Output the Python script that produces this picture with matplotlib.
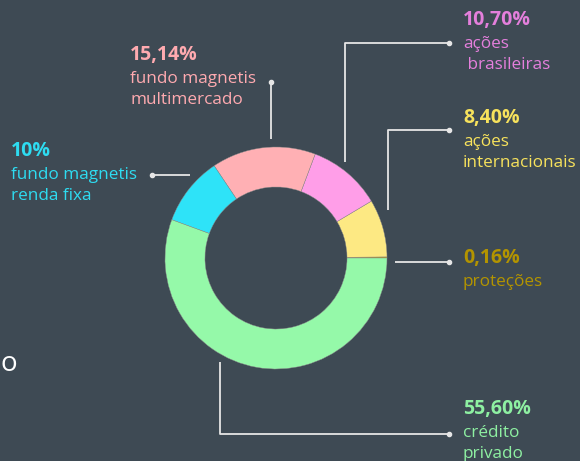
import matplotlib
matplotlib.use("Agg")
import matplotlib.pyplot as plt

# data, counterclockwise from the right side
names = ["proteções", "ações\ninternacionais", "ações\n brasileiras",
         "fundo magnetis\nmultimercado", "fundo magnetis\nrenda fixa", "crédito\nprivado"]
pct_labels = ["0,16%", "8,40%", "10,70%", "15,14%", "10%", "55,60%"]
values = [0.16, 8.40, 10.70, 15.14, 10.0, 55.60]
slice_colors = ["#b89a00", "#fde983", "#ff9ee8", "#ffb0b4", "#2ee3f8", "#95f9a9"]
text_colors = ["#b39400", "#f7e25c", "#e47fdc", "#ffaab0", "#2edcf1", "#8ef0a2"]

BG = "#3e4a54"
LINE = "#e6e6e6"
H = 461

plt.rcParams['font.family'] = ['Open Sans', 'DejaVu Sans']

fig = plt.figure(figsize=(5.8, 4.61), dpi=100, facecolor=BG)
ax = fig.add_axes([0, 0, 1, 1])
ax.set_facecolor(BG)

cx, cy, r = 276, H - 258, 111
ax.pie(values, colors=slice_colors, startangle=0, counterclock=True,
       center=(cx, cy), radius=r,
       wedgeprops=dict(width=r * 0.36, edgecolor="#8a8a8a", linewidth=0.3))
ax.set_xlim(0, 580)
ax.set_ylim(0, H)
ax.set_aspect('auto')
ax.axis('off')


def leader(pts, dot):
    xs = [p[0] for p in pts]
    ys = [H - p[1] for p in pts]
    ax.plot(xs, ys, color=LINE, lw=1.3, solid_capstyle='butt')
    ax.plot([dot[0]], [H - dot[1]], 'o', color=LINE, ms=3)


# leader lines (pixel coords, y down)
leader([(395, 262), (449, 262)], (449, 262))
leader([(388, 210), (388, 130), (449, 130)], (449, 130))
leader([(345, 162), (345, 43), (449, 43)], (449, 43))
leader([(271, 139), (271, 82)], (271, 82))
leader([(190, 175), (152, 175)], (152, 175))
leader([(220, 362), (220, 434), (449, 434)], (449, 434))

# label positions: (x, y of percent line center)
label_pos = [(463, 258), (463, 118), (463, 20), (130, 55), (11, 151), (463, 409)]

for (x, y), p, n, c in zip(label_pos, pct_labels, names, text_colors):
    ax.text(x, H - y, p, color=c, fontsize=14, fontweight='bold',
            ha='left', va='center')
    for i, line in enumerate(n.split("\n")):
        ax.text(x, H - (y + 24 + 21 * i), line, color=c, fontsize=12.3,
                ha='left', va='center')

# text fragment at the left edge
ax.text(0, H - 364, "o", color="white", fontsize=20, ha='left', va='center')

fig.savefig("out.png", dpi=100, facecolor=BG)
